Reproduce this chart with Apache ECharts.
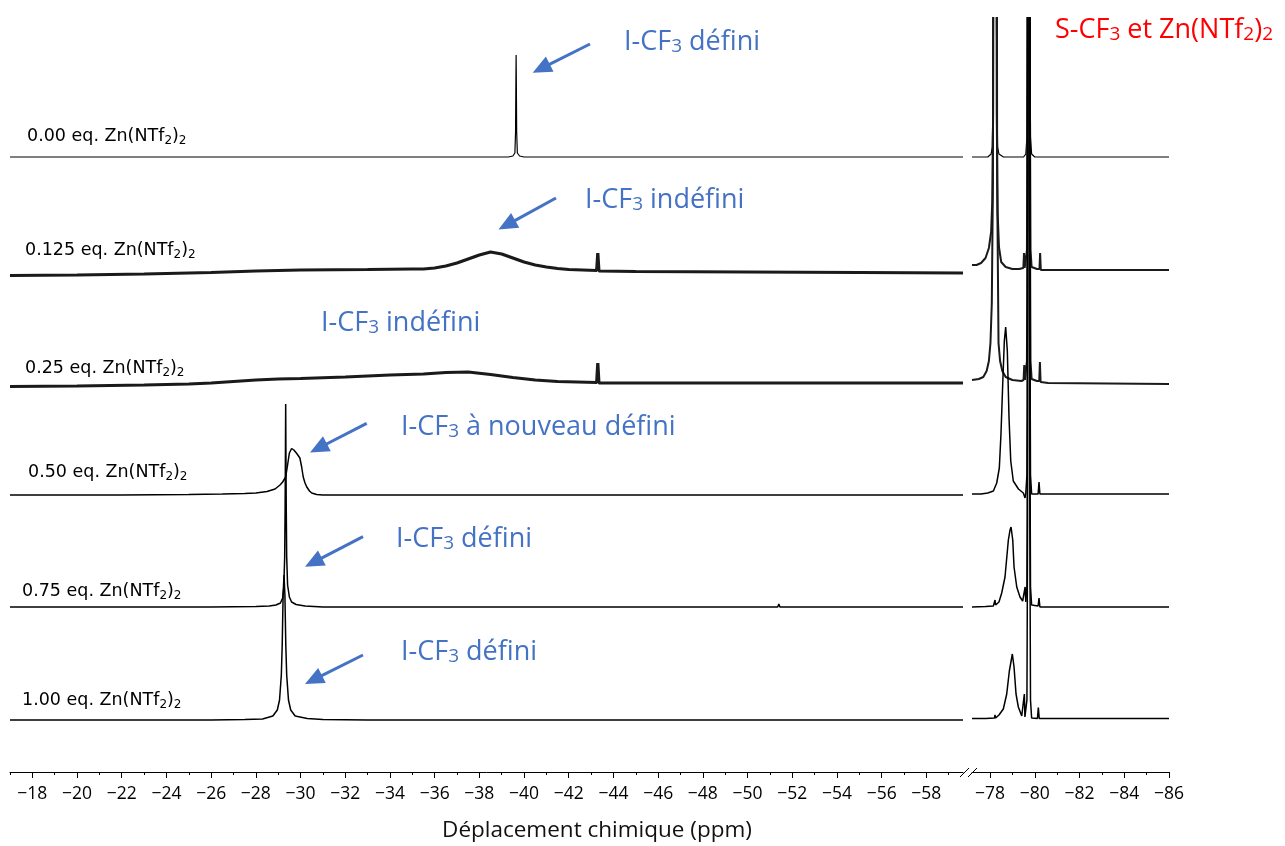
<!DOCTYPE html>
<html><head><meta charset="utf-8">
<script src="https://cdn.jsdelivr.net/npm/echarts@6/dist/echarts.min.js"></script>
<style>html,body{margin:0;padding:0;background:#fff}#c{width:1285px;height:846px}</style>
</head><body><div id="c"></div>
<script>
// ---------- DATA (ppm, intensity) ----------
const sampleEq = ['0.00', '0.125', '0.25', '0.50', '0.75', '1.00'];
const majorTicksLeft = [-18,-20,-22,-24,-26,-28,-30,-32,-34,-36,-38,-40,-42,-44,-46,-48,-50,-52,-54,-56,-58];
const minorTicksLeft = [-17,-19,-21,-23,-25,-27,-29,-31,-33,-35,-37,-39,-41,-43,-45,-47,-49,-51,-53,-55,-57,-59];
const majorTicksRight = [-78,-80,-82,-84,-86];
const minorTicksRight = [-79,-81,-83,-85];

const spec000Left = [[-17,0],[-39.3,0],[-39.5,1],[-39.59,4],[-39.62,25],[-39.635,75],[-39.645,102],[-39.655,75],[-39.67,25],[-39.7,4],[-39.8,1],[-40,0],[-59.64,0]];
const spec000Right = [[-77.195,0],[-77.9,0],[-78.05,3],[-78.1,10],[-78.13,50],[-78.15,130],[-78.2,1500],[-78.22,3000],[-78.24,1500],[-78.29,130],[-78.31,50],[-78.34,10],[-78.4,3],[-78.6,0],[-79.5,0],[-79.6,3],[-79.65,20],[-79.68,200],[-79.7,2000],[-79.73,5000],[-79.76,2000],[-79.78,200],[-79.81,20],[-79.86,3],[-80,0],[-86,0]];

const spec0125Left = [[-17,-3.5],[-20,-3],[-23,-2],[-26,-0.5],[-28,1],[-30,2],[-33,2.5],[-35,3],[-35.5,3],[-36,4],[-36.5,6],[-37,9],[-37.5,13],[-38,17],[-38.5,20],[-39,18],[-39.5,14],[-40,10],[-40.5,7],[-41,5],[-41.5,3.5],[-42,2.5],[-43.25,1.5],[-43.3,19],[-43.35,1],[-45,0.5],[-50,0],[-55,-0.5],[-59.64,-1]];
const spec0125Right = [[-77.195,7],[-77.4,7],[-77.6,9],[-77.8,14],[-77.95,24],[-78.05,40],[-78.1,70],[-78.14,160],[-78.2,1500],[-78.22,3000],[-78.24,1500],[-78.3,160],[-78.34,60],[-78.4,25],[-78.5,10],[-78.7,5],[-79,3],[-79.3,3],[-79.49,4],[-79.52,19],[-79.55,4],[-79.6,5],[-79.65,22],[-79.68,200],[-79.7,2000],[-79.73,5000],[-79.76,2000],[-79.78,200],[-79.81,22],[-79.86,5],[-80.1,3],[-80.21,3],[-80.24,19],[-80.27,2],[-80.5,2],[-86,2]];

const spec025Left = [[-17,-3.5],[-20,-3],[-23,-2],[-25,-1],[-26,0],[-27,1.5],[-28,3],[-29,4],[-30,4.5],[-32,6],[-34,8],[-35.5,9],[-36.5,10.5],[-37.5,11],[-38.5,8.5],[-39.5,5.5],[-40.5,3],[-41.5,1.5],[-43.25,0.5],[-43.3,20],[-43.35,0],[-46,0],[-50,0],[-59.64,0]];
const spec025Right = [[-77.195,3],[-77.5,4],[-77.7,6],[-77.85,12],[-77.95,22],[-78.02,40],[-78.08,80],[-78.13,200],[-78.2,1500],[-78.22,3000],[-78.25,1500],[-78.32,200],[-78.38,40],[-78.45,22],[-78.55,12],[-78.7,6],[-79,3],[-79.4,2],[-79.5,3],[-79.53,18],[-79.56,3],[-79.6,5],[-79.65,22],[-79.68,200],[-79.7,2000],[-79.73,5000],[-79.76,2000],[-79.78,200],[-79.81,22],[-79.86,4],[-80.1,2],[-80.2,2],[-80.23,21],[-80.26,1],[-80.6,0],[-86,-1]];

const spec050Left = [[-17,0],[-22,0],[-25,0.5],[-26.5,1],[-27.5,1.5],[-28,2],[-28.5,3.5],[-28.86,6],[-29.08,10],[-29.2,13],[-29.335,18],[-29.42,30],[-29.5,42],[-29.6,46.5],[-29.7,45],[-29.83,41.5],[-29.97,37],[-30.05,28],[-30.12,18],[-30.2,12],[-30.28,8],[-30.4,4],[-30.5,2],[-30.72,0.5],[-31,0],[-40,0],[-59.64,0]];
const spec050Right = [[-77.195,1],[-77.6,1],[-77.9,2],[-78.15,4],[-78.3,12],[-78.416,27],[-78.49,61],[-78.568,111],[-78.64,154],[-78.7,168],[-78.774,144],[-78.85,77],[-78.927,34],[-79.04,14],[-79.27,6],[-79.49,2],[-79.566,-3],[-79.6,2],[-79.65,20],[-79.68,200],[-79.7,2000],[-79.73,5000],[-79.76,2000],[-79.78,200],[-79.81,20],[-79.86,1],[-80.15,1],[-80.19,13],[-80.23,1],[-80.5,1],[-86,1]];

const spec075Left = [[-17,0],[-26,0],[-28,0.5],[-28.6,1],[-28.9,2],[-29.1,4],[-29.2,9],[-29.25,20],[-29.29,50],[-29.31,100],[-29.325,160],[-29.335,203],[-29.345,160],[-29.36,100],[-29.38,50],[-29.42,22],[-29.5,10],[-29.6,5],[-29.8,2.5],[-30.2,1],[-31,0],[-51.35,0],[-51.4,3],[-51.45,0],[-59.64,0]];
const spec075Right = [[-77.195,0],[-77.8,0.5],[-78.15,1],[-78.2,2],[-78.224,7],[-78.25,2],[-78.4,5],[-78.523,14],[-78.67,30],[-78.82,67],[-78.895,77],[-78.94,80],[-79.016,67],[-79.074,40],[-79.195,20],[-79.34,10],[-79.46,6],[-79.54,5],[-79.57,20],[-79.6,5],[-79.65,20],[-79.68,200],[-79.7,2000],[-79.73,5000],[-79.76,2000],[-79.78,200],[-79.81,20],[-79.86,2],[-80.15,1],[-80.19,9],[-80.23,0],[-86,0]];

const spec100Left = [[-17,0],[-26,0],[-27.5,0.5],[-28.3,1],[-28.76,4],[-28.96,10],[-29.06,20],[-29.14,45],[-29.18,75],[-29.22,125],[-29.26,145],[-29.3,125],[-29.34,75],[-29.38,45],[-29.46,20],[-29.56,10],[-29.76,4],[-30.3,1.5],[-31,0.5],[-33,0],[-51.35,0],[-51.4,2],[-51.45,0],[-59.64,0]];
const spec100Right = [[-77.195,1.5],[-77.8,1.5],[-78.2,2],[-78.224,5],[-78.25,2],[-78.4,5],[-78.595,11],[-78.747,26],[-78.864,49],[-78.998,66],[-79.074,53],[-79.163,26],[-79.266,13],[-79.418,4],[-79.5,3],[-79.535,26],[-79.56,3],[-79.6,3],[-79.65,20],[-79.68,200],[-79.7,2000],[-79.73,5000],[-79.76,2000],[-79.78,200],[-79.81,20],[-79.86,2],[-80.12,1.5],[-80.16,12.5],[-80.2,1.5],[-86,1.5]];

const spectraLeft = [spec000Left, spec0125Left, spec025Left, spec050Left, spec075Left, spec100Left];
const spectraRight = [spec000Right, spec0125Right, spec025Right, spec050Right, spec075Right, spec100Right];

// ---------- presentation ----------
const stackOffsets = [615, 500, 389, 277, 165, 52];
const lineWidthsLeft = [1.2, 3.2, 3.2, 1.5, 1.5, 1.5];
const lineWidthsRight = [1.2, 2, 2, 1.5, 1.5, 1.5];
const lineColors = ['#000', '#1a1a1a', '#1a1a1a', '#000', '#000', '#000'];
const labelPos = [[27,136],[25,250],[25,368],[28,472],[22,591],[22,700]];

const chart = echarts.init(document.getElementById('c'), null, {renderer: 'canvas'});

const fmt = v => (v < 0 ? '\u2212' + Math.abs(v) : String(v));
function mkAxis(grid, min, max, major, minor) {
  return [
    {gridIndex: grid, type: 'value', min: min, max: max, inverse: true, position: 'bottom',
      axisLine: {show: true, onZero: false, lineStyle: {color: '#000', width: 1}},
      axisTick: {show: true, customValues: major, length: 6, lineStyle: {color: '#000', width: 1}},
      axisLabel: {show: true, customValues: major, formatter: fmt, color: '#000', fontFamily: 'Open Sans', fontSize: 17.5, margin: 13},
      splitLine: {show: false}},
    {gridIndex: grid, type: 'value', min: min, max: max, inverse: true, position: 'bottom',
      axisLine: {show: false},
      axisTick: {show: true, customValues: minor, length: 3, lineStyle: {color: '#000', width: 1}},
      axisLabel: {show: false}, splitLine: {show: false}}
  ];
}

const series = [];
for (let i = 0; i < sampleEq.length; i++) {
  [[spectraLeft[i], 0, 0, lineWidthsLeft[i]], [spectraRight[i], 2, 1, lineWidthsRight[i]]].forEach(([arr, xi, yi, lw]) => {
    series.push({
      type: 'line', xAxisIndex: xi, yAxisIndex: yi, silent: true, animation: false,
      showSymbol: false, symbol: 'none', clip: true,
      lineStyle: {color: lineColors[i], width: lw},
      data: arr.map(p => [p[0], p[1] + stackOffsets[i]])
    });
  });
}

const blue = '#4472C4';
const richBlue = {
  a: {fill: blue, fontFamily: 'Open Sans', fontSize: 27, lineHeight: 32},
  s: {fill: blue, fontFamily: 'Open Sans', fontSize: 19, lineHeight: 19, padding: [10, 0, 0, 0]}
};
const richRed = {
  a: {fill: '#FF0000', fontFamily: 'Open Sans', fontSize: 27, lineHeight: 32},
  s: {fill: '#FF0000', fontFamily: 'Open Sans', fontSize: 19, lineHeight: 19, padding: [10, 0, 0, 0]}
};
const richBlack = {
  a: {fill: '#000', fontFamily: 'DejaVu Sans', fontSize: 17.5, lineHeight: 20},
  s: {fill: '#000', fontFamily: 'DejaVu Sans', fontSize: 12, lineHeight: 12, padding: [9, 0, 0, 0]}
};

const graphics = [];
sampleEq.forEach((eq, i) => {
  graphics.push({type: 'text', x: labelPos[i][0], y: labelPos[i][1], silent: true,
    style: {text: '{a|' + eq + ' eq. Zn(NTf}{s|2}{a|)}{s|2}', rich: richBlack, verticalAlign: 'middle', align: 'left'}});
});
const blueLabels = [
  ['défini', 624, 42], ['indéfini', 585, 200], ['indéfini', 321, 323],
  ['à nouveau défini', 401, 427], ['défini', 396, 539], ['défini', 401, 652]
];
blueLabels.forEach(([t, x, y]) => {
  graphics.push({type: 'text', x: x, y: y, silent: true,
    style: {text: '{a|I-CF}{s|3}{a| ' + t + '}', rich: richBlue, verticalAlign: 'middle', align: 'left'}});
});
graphics.push({type: 'text', x: 1055, y: 30, silent: true,
  style: {text: '{a|S-CF}{s|3}{a| et Zn(NTf}{s|2}{a|)}{s|2}', rich: richRed, verticalAlign: 'middle', align: 'left'}});

const arrows = [[590,44,532.7,72.7],[556,198,498.5,229.5],[366.7,423.3,310,452.5],[363,536.7,305,566.7],[363,655,305,684]];
arrows.forEach(([x1, y1, x2, y2]) => {
  const dx = x2 - x1, dy = y2 - y1, len = Math.hypot(dx, dy);
  const ux = dx / len, uy = dy / len, L = 19, W = 8.5;
  const bx = x2 - ux * L, by = y2 - uy * L;
  graphics.push({type: 'line', silent: true, shape: {x1: x1, y1: y1, x2: bx + ux * 2, y2: by + uy * 2},
    style: {stroke: blue, lineWidth: 3}});
  graphics.push({type: 'polygon', silent: true,
    shape: {points: [[x2, y2], [bx - uy * W, by + ux * W], [bx + uy * W, by - ux * W]]},
    style: {fill: blue}});
});
// axis break marks
graphics.push({type: 'line', silent: true, shape: {x1: 960, y1: 777, x2: 969, y2: 768}, style: {stroke: '#000', lineWidth: 1}});
graphics.push({type: 'line', silent: true, shape: {x1: 968, y1: 777, x2: 977, y2: 768}, style: {stroke: '#000', lineWidth: 1}});
// axis title
graphics.push({type: 'text', x: 597, y: 831, silent: true,
  style: {text: 'Déplacement chimique (ppm)', fill: '#111', font: '22.5px "Open Sans"', align: 'center', verticalAlign: 'middle'}});

chart.setOption({
  animation: false,
  backgroundColor: '#fff',
  grid: [
    {left: 10, right: 322, top: 18, bottom: 74},
    {left: 972, right: 116, top: 18, bottom: 74}
  ],
  xAxis: [].concat(mkAxis(0, -59.64, -17, majorTicksLeft, minorTicksLeft),
                   mkAxis(1, -86, -77.195, majorTicksRight, minorTicksRight)),
  yAxis: [
    {gridIndex: 0, type: 'value', min: 0, max: 754, show: false},
    {gridIndex: 1, type: 'value', min: 0, max: 754, show: false}
  ],
  series: series,
  graphic: graphics
});
</script></body></html>
